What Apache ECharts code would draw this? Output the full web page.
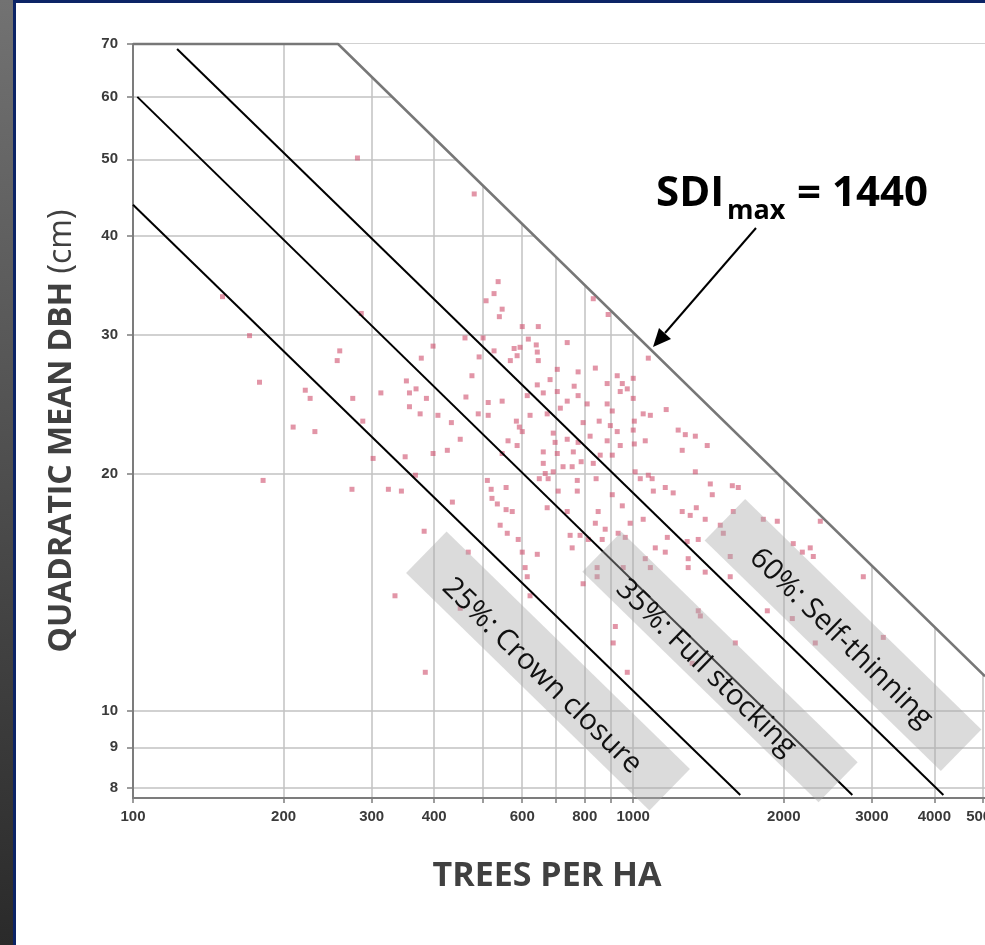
<!DOCTYPE html>
<html>
<head>
<meta charset="utf-8">
<title>Stand density diagram</title>
<script src="https://cdn.jsdelivr.net/npm/echarts@6.0.0/dist/echarts.min.js"></script>
<style>
  html, body { margin: 0; padding: 0; background: #fff; }
  #chart { width: 985px; height: 945px; }
</style>
</head>
<body>
<div id="chart"></div>
<script>
// plots: trees per ha and quadratic mean dbh (cm)
var plotTrees = [281, 481, 151, 171, 179, 182, 221, 226, 209, 231, 259, 256, 275, 288, 302, 313, 350, 352, 357, 368,
  377, 357, 375, 386, 286, 367, 274, 324, 344, 334, 384, 382, 537, 527, 508, 547, 540, 600, 646, 461,
  501, 617, 738, 398, 832, 891, 578, 594, 640, 527, 643, 492, 586, 568, 646, 705, 776, 840, 476, 682,
  643, 762, 887, 929, 463, 513, 547, 661, 705, 614, 738, 776, 809, 887, 407, 490, 513, 622, 673, 715,
  908, 433, 584, 592, 600, 794, 855, 900, 451, 562, 586, 692, 698, 738, 776, 820, 887, 398, 425, 661,
  705, 759, 859, 908, 929, 547, 1072, 1000, 951, 973, 1000, 942, 1047, 1082, 1164, 1005, 1000, 1230, 1271, 1331,
  1406, 1057, 1005, 1253, 942, 435, 511, 522, 535, 557, 573, 542, 560, 589, 600, 643, 608, 614, 622, 468,
  451, 661, 667, 673, 708, 773, 724, 755, 832, 843, 851, 840, 908, 738, 748, 783, 755, 813, 867, 879,
  794, 847, 847, 933, 921, 912, 692, 773, 1331, 1097, 1159, 1202, 1426, 1439, 1578, 1622, 1253, 1300, 1337, 1393,
  1047, 986, 951, 1585, 1820, 1941, 2089, 2259, 2291, 1170, 1282, 1349, 1493, 1514, 1107, 1159, 1288, 1288, 1057, 1082,
  964, 955, 1393, 1563, 1563, 1854, 2080, 1349, 1362, 1600, 1312, 973, 2312, 1033, 1072, 1009, 2366, 2178, 2884, 3162,
  676, 649, 787, 1091, 520, 557];
var plotDbh = [50.2, 45.2, 33.5, 29.9, 26.1, 19.6, 25.5, 24.9, 22.9, 22.6, 28.6, 27.8, 24.9, 23.3, 20.9, 25.3, 21.0, 26.2, 25.3, 25.6,
  28.0, 24.3, 23.8, 24.9, 31.9, 19.9, 19.1, 19.1, 19.0, 14.0, 11.2, 16.9, 35.0, 33.8, 33.1, 32.3, 31.6, 30.7, 30.7, 29.7,
  29.7, 29.6, 29.3, 29.0, 33.3, 31.8, 28.8, 28.9, 29.1, 28.6, 28.5, 28.1, 28.2, 27.8, 27.8, 27.1, 26.9, 27.2, 26.6, 26.3,
  25.9, 25.8, 26.0, 26.6, 25.0, 24.6, 24.7, 25.3, 25.4, 25.1, 24.7, 25.1, 24.5, 24.5, 23.7, 23.8, 23.7, 23.7, 23.8, 24.2,
  24.0, 23.2, 23.3, 22.9, 22.6, 23.2, 23.3, 23.0, 22.1, 22.0, 21.7, 22.5, 21.9, 22.1, 21.9, 22.3, 22.0, 21.2, 21.4, 21.3,
  21.2, 21.3, 21.1, 21.1, 22.6, 21.2, 28.0, 26.4, 26.0, 25.6, 24.9, 25.4, 23.8, 23.7, 24.1, 23.3, 22.7, 22.7, 22.4, 22.3,
  21.7, 22.0, 21.8, 21.4, 21.7, 18.4, 19.6, 18.6, 18.3, 19.2, 17.9, 17.2, 16.8, 16.5, 15.9, 15.8, 15.2, 14.8, 14.0, 15.9,
  13.5, 20.6, 20.0, 18.1, 19.0, 19.0, 20.4, 20.4, 20.6, 19.7, 17.9, 17.3, 18.8, 17.9, 16.7, 16.7, 16.1, 16.5, 16.5, 17.0,
  14.5, 14.8, 15.2, 16.8, 12.8, 12.2, 20.1, 19.6, 20.1, 19.0, 19.2, 18.9, 19.4, 18.8, 19.3, 19.2, 17.9, 17.7, 18.1, 17.5,
  17.5, 17.3, 18.2, 17.9, 17.5, 17.4, 16.3, 16.1, 15.7, 16.6, 16.4, 16.5, 17.2, 16.8, 16.1, 15.9, 15.6, 15.2, 15.6, 15.2,
  16.6, 15.2, 15.0, 14.8, 15.7, 13.4, 13.1, 13.4, 13.2, 12.2, 11.5, 11.2, 12.2, 19.7, 19.9, 20.1, 17.4, 15.9, 14.8, 12.4,
  19.7, 19.7, 20.7, 19.7, 19.1, 18.0];

// axis ticks
var treeTicks = [100, 200, 300, 400, 500, 600, 700, 800, 900, 1000, 2000, 3000, 4000, 5000];
var treeLabels = [100, 200, 300, 400, 600, 800, 1000, 2000, 3000, 4000, 5000];
var dbhTicks = [8, 9, 10, 20, 30, 40, 50, 60, 70];

// SDImax boundary and the stocking lines, [trees, dbh]
var sdiMaxLine = [[100, 70], [257, 70], [5050, 11.07]];
var line60 = [[122.5, 69.0], [4169, 7.83]];
var line35 = [[102, 60.0], [2742, 7.83]];
var line25 = [[100, 43.8], [1637, 7.83]];

var chart = echarts.init(document.getElementById('chart'));

var tickFont = {color: '#3a3a3a', fontFamily: 'Liberation Sans', fontWeight: 'bold', fontSize: 15,
  formatter: function (v) { return String(Math.round(v)); }};
var slant = -0.773;   // bands follow the stocking lines

function band(cx, cy, len, wid, tx, ty, text) {
  return [{
    type: 'rect', x: cx, y: cy, rotation: slant, z: 100, silent: true,
    shape: {x: -len / 2, y: -wid / 2, width: len, height: wid},
    style: {fill: 'rgba(170,170,170,0.42)'}
  }, {
    type: 'text', x: tx, y: ty, rotation: slant, z: 101, silent: true,
    style: {text: text, fill: '#111', font: '29px "Open Sans"', align: 'center', verticalAlign: 'middle',
      shadowColor: 'rgba(0,0,0,0.35)', shadowBlur: 3}
  }];
}

var graphics = [
  {type: 'rect', x: 0, y: 0, z: 100, shape: {width: 13, height: 945},
    style: {fill: new echarts.graphic.LinearGradient(0, 0, 0, 1, [
      {offset: 0, color: '#727272'}, {offset: 1, color: '#2a2a2a'}])}},
  {type: 'rect', x: 13, y: 0, z: 100, shape: {width: 3, height: 945}, style: {fill: '#0c2466'}},
  {type: 'rect', x: 13, y: 0, z: 100, shape: {width: 972, height: 3}, style: {fill: '#0c2466'}},
  // SDImax label and arrow
  {type: 'text', x: 656, y: 194, z: 101, style: {text: 'SDI', fill: '#000', font: 'bold 42px "Open Sans"', verticalAlign: 'middle'}},
  {type: 'text', x: 727, y: 211, z: 101, style: {text: 'max', fill: '#000', font: 'bold 27px "Open Sans"', verticalAlign: 'middle'}},
  {type: 'text', x: 797, y: 194, z: 101, style: {text: '= 1440', fill: '#000', font: 'bold 42px "Open Sans"', verticalAlign: 'middle'}},
  {type: 'polyline', z: 101, shape: {points: [[756, 228], [665, 333]]}, style: {stroke: '#000', lineWidth: 2}},
  {type: 'polygon', z: 101, shape: {points: [[653, 347], [671, 339], [659, 328]]}, style: {fill: '#000'}}
];
graphics = graphics
  .concat(band(548, 671, 340, 58, 542, 676, '25%: Crown closure'))
  .concat(band(720, 667, 330, 56, 706, 668, '35%: Full stocking'))
  .concat(band(843, 635, 330, 58, 841, 638, '60%: Self-thinning'));

function stockLine(name, pts) {
  return {
    name: name, type: 'line', data: pts, symbol: 'none', silent: true, z: 4,
    lineStyle: {color: '#000', width: 2}
  };
}

var option = {
  backgroundColor: '#fff',
  animation: false,
  grid: {left: 133, top: 44, width: 852, height: 754, outerBoundsMode: 'none', containLabel: false},
  xAxis: {
    type: 'log', min: 100, max: 5050,
    name: 'TREES PER HA', nameLocation: 'middle', nameGap: 61,
    nameTextStyle: {color: '#404040', fontFamily: 'Open Sans', fontWeight: 'bold', fontSize: 34, padding: [0, 24, 0, 0]},
    axisLine: {onZero: false, lineStyle: {color: '#7c7c7c', width: 2}},
    axisTick: {customValues: treeTicks, length: 5, lineStyle: {color: '#7c7c7c', width: 1.5}},
    axisLabel: Object.assign({customValues: treeLabels, margin: 11}, tickFont),
    splitLine: {show: true, customValues: treeTicks, lineStyle: {color: '#c2c2c2', width: 1.5}},
    minorTick: {show: false}, minorSplitLine: {show: false}
  },
  yAxis: {
    type: 'log', min: 7.762, max: 70,
    name: '{b|QUADRATIC MEAN DBH} {r|(cm)}', nameLocation: 'middle', nameRotate: 90, nameGap: 55,
    nameTextStyle: {
      color: '#404040', fontFamily: 'Open Sans', fontSize: 32, padding: [0, 20, 0, 0],
      rich: {
        b: {color: '#404040', fontFamily: 'Open Sans', fontWeight: 'bold', fontSize: 32},
        r: {color: '#404040', fontFamily: 'Open Sans', fontSize: 32}
      }
    },
    axisLine: {onZero: false, lineStyle: {color: '#7c7c7c', width: 2}},
    axisTick: {customValues: dbhTicks, length: 6, lineStyle: {color: '#7c7c7c', width: 1.5}},
    axisLabel: Object.assign({customValues: dbhTicks, margin: 15}, tickFont),
    splitLine: {show: true, customValues: dbhTicks, lineStyle: {color: '#c2c2c2', width: 1.5}},
    minorTick: {show: false}, minorSplitLine: {show: false}
  },
  series: [
    {
      name: 'SDImax', type: 'line', data: sdiMaxLine, symbol: 'none', silent: true, z: 1, clip: false,
      lineStyle: {color: '#777', width: 2.5},
      areaStyle: {color: '#fff', opacity: 1, origin: 'end'}
    },
    {
      name: 'Plots', type: 'scatter', z: 3, silent: true,
      data: plotTrees.map(function (n, i) { return [n, plotDbh[i]]; }),
      symbol: 'rect', symbolSize: 5,
      itemStyle: {color: '#cf4f6c', opacity: 0.6}
    },
    stockLine('60%', line60),
    stockLine('35%', line35),
    stockLine('25%', line25)
  ],
  graphic: graphics
};

chart.setOption(option);
</script>
</body>
</html>
